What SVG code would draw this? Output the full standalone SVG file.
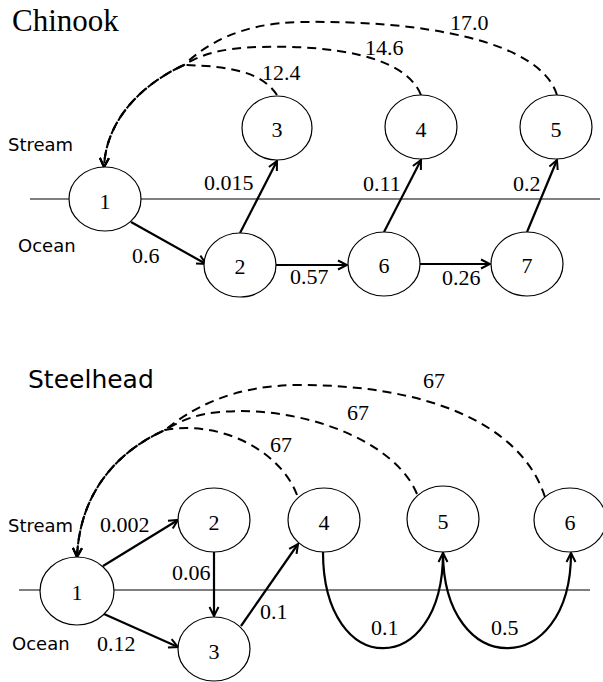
<svg xmlns="http://www.w3.org/2000/svg" width="603" height="682" viewBox="0 0 603 682">
<style>
.node{fill:#fff;stroke:#000;stroke-width:1.2}
.base{stroke:#000;stroke-width:1.2;fill:none}
.edge{stroke:#000;stroke-width:2.2;fill:none}
.dash{stroke:#000;stroke-width:2;fill:none;stroke-dasharray:9 6}
.nl{font-family:"Liberation Serif","Times New Roman",serif;font-size:22px;text-anchor:middle;fill:#000}
.el{font-family:"Liberation Serif","Times New Roman",serif;font-size:22px;fill:#000}
.sa{font-family:"DejaVu Sans",sans-serif;font-size:18px;fill:#000}
.t1{font-family:"Liberation Serif","Times New Roman",serif;font-size:31px;fill:#000}
.t2{font-family:"DejaVu Sans",sans-serif;font-size:25px;fill:#000}
</style>
<defs>
<marker id="ah" viewBox="-11 -7 13 14" refX="0" refY="0" markerWidth="13" markerHeight="14" markerUnits="userSpaceOnUse" orient="auto">
<path d="M-9,-4.5 L0,0 L-9,4.5" fill="none" stroke="#000" stroke-width="2" stroke-dasharray="none"/>
</marker>
</defs>
<rect width="603" height="682" fill="#fff"/>

<g id="chinook-frame">
<text class="t1" x="12" y="31">Chinook</text>
<text class="sa" x="8" y="151">Stream</text>
<text class="sa" x="18" y="252">Ocean</text>
<line class="base" x1="30" y1="199" x2="600" y2="199"/>
</g>

<g id="steelhead-frame">
<text class="t2" x="28" y="388">Steelhead</text>
<text class="sa" x="8" y="532">Stream</text>
<text class="sa" x="12" y="650">Ocean</text>
<line class="base" x1="19" y1="590" x2="590" y2="590"/>
</g>

<g id="connectors">
<path class="dash" d="M277,95 C262,72 230,66 184,65 C142,84 106,120 104,167" marker-end="url(#ah)"/>
<path class="dash" d="M421,95 C405,55 330,45 260,47 C220,48 200,55 184,65 C142,84 106,120 104,167" marker-end="url(#ah)"/>
<path class="dash" d="M557,95 C540,40 420,20 300,22 C240,23 205,45 184,65 C142,84 106,120 104,167" marker-end="url(#ah)"/>
<path class="edge" d="M131,222 L206,264" marker-end="url(#ah)"/>
<path class="edge" d="M240,233 L277,161" marker-end="url(#ah)"/>
<path class="edge" d="M276,265 L347,265" marker-end="url(#ah)"/>
<path class="edge" d="M384,232 L421,160" marker-end="url(#ah)"/>
<path class="edge" d="M420,264 L490,264" marker-end="url(#ah)"/>
<path class="edge" d="M527,232 L557,160" marker-end="url(#ah)"/>

<path class="dash" d="M297,495 C280,450 220,420 165,430 C120,450 80,490 77,557" marker-end="url(#ah)"/>
<path class="dash" d="M417,494 C395,440 300,405 220,412 C195,414 178,422 165,430 C120,450 80,490 77,557" marker-end="url(#ah)"/>
<path class="dash" d="M545,497 C520,420 420,385 300,385 C230,385 190,410 165,430 C120,450 80,490 77,557" marker-end="url(#ah)"/>
<path class="edge" d="M103,566 L178,520" marker-end="url(#ah)"/>
<path class="edge" d="M214,552 L214,616" marker-end="url(#ah)"/>
<path class="edge" d="M104,614 L178,647" marker-end="url(#ah)"/>
<path class="edge" d="M241,626 L298,544" marker-end="url(#ah)"/>
<path class="edge" d="M323,552 C323,680 443,680 443,553" marker-end="url(#ah)"/>
<path class="edge" d="M443,552 C443,680 571,680 571,553" marker-end="url(#ah)"/>
</g>

<g id="edge-labels">
<text class="el" x="262" y="80">12.4</text>
<text class="el" x="365" y="55">14.6</text>
<text class="el" x="450" y="30">17.0</text>
<text class="el" x="204" y="190">0.015</text>
<text class="el" x="132" y="263">0.6</text>
<text class="el" x="290" y="284">0.57</text>
<text class="el" x="363" y="191">0.11</text>
<text class="el" x="513" y="191">0.2</text>
<text class="el" x="442" y="285">0.26</text>
<text class="el" x="270" y="452">67</text>
<text class="el" x="347" y="420">67</text>
<text class="el" x="423" y="388">67</text>
<text class="el" x="100" y="532">0.002</text>
<text class="el" x="172" y="580">0.06</text>
<text class="el" x="97" y="651">0.12</text>
<text class="el" x="260" y="619">0.1</text>
<text class="el" x="371" y="635">0.1</text>
<text class="el" x="491" y="635">0.5</text>
</g>

<g id="c1"><ellipse class="node" cx="105" cy="199" rx="36" ry="32"/><text class="nl" x="105" y="209">1</text></g>
<g id="c2"><ellipse class="node" cx="240" cy="265" rx="36" ry="32"/><text class="nl" x="240" y="274">2</text></g>
<g id="c3"><ellipse class="node" cx="277" cy="128" rx="35" ry="32"/><text class="nl" x="277" y="137">3</text></g>
<g id="c4"><ellipse class="node" cx="421" cy="127" rx="36" ry="32"/><text class="nl" x="421" y="137">4</text></g>
<g id="c5"><ellipse class="node" cx="556" cy="127" rx="36" ry="32"/><text class="nl" x="556" y="137">5</text></g>
<g id="c6"><ellipse class="node" cx="384" cy="264" rx="36" ry="32"/><text class="nl" x="384" y="273">6</text></g>
<g id="c7"><ellipse class="node" cx="527" cy="264" rx="36" ry="32"/><text class="nl" x="527" y="273">7</text></g>

<g id="s1"><ellipse class="node" cx="77" cy="591" rx="37" ry="34"/><text class="nl" x="77" y="600">1</text></g>
<g id="s2"><ellipse class="node" cx="214" cy="520" rx="36" ry="32"/><text class="nl" x="214" y="530">2</text></g>
<g id="s3"><ellipse class="node" cx="214" cy="649" rx="36" ry="32"/><text class="nl" x="214" y="659">3</text></g>
<g id="s4"><ellipse class="node" cx="324" cy="520" rx="36" ry="32"/><text class="nl" x="324" y="530">4</text></g>
<g id="s5"><ellipse class="node" cx="443" cy="519" rx="36" ry="33"/><text class="nl" x="443" y="529">5</text></g>
<g id="s6"><ellipse class="node" cx="570" cy="520" rx="36" ry="32"/><text class="nl" x="570" y="530">6</text></g>
</svg>
